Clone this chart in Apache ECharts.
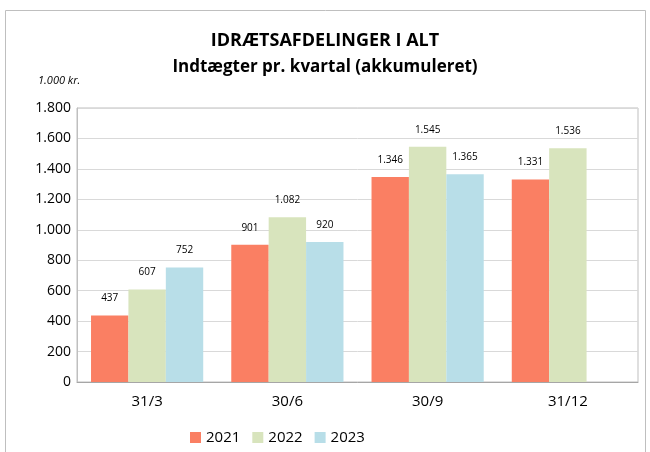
<!DOCTYPE html>
<html>
<head>
<meta charset="utf-8">
<script src="https://cdn.jsdelivr.net/npm/echarts@6/dist/echarts.min.js"></script>
<style>
  html, body { margin: 0; padding: 0; background: #fff; }
  #chart { width: 650px; height: 452px; }
</style>
</head>
<body>
<div id="chart"></div>
<script>
// data
var quarters = ['31/3', '30/6', '30/9', '31/12'];
var years = ['2021', '2022', '2023'];
var values2021 = [437, 901, 1346, 1331];
var values2022 = [607, 1082, 1545, 1536];
var values2023 = [752, 920, 1365, null];
var colors = ['#fa7f63', '#d8e4bd', '#b8dee8'];

// tal med punktum som tusindtalsseparator
function fmt (v) {
  return String(Math.round(v)).replace(/\B(?=(\d{3})+(?!\d))/g, '.');
}

var chart = echarts.init(document.getElementById('chart'));
var seriesData = [values2021, values2022, values2023];

chart.setOption({
  animation: false,
  color: colors,
  textStyle: { fontFamily: 'Open Sans, Liberation Sans, sans-serif' },
  title: {
    text: 'IDRÆTSAFDELINGER I ALT',
    subtext: 'Indtægter pr. kvartal (akkumuleret)',
    left: 'center',
    top: 27,
    itemGap: 9,
    textStyle: { fontSize: 18, fontWeight: 'bold', color: '#000' },
    subtextStyle: { fontSize: 17, fontWeight: 'bold', color: '#000' }
  },
  graphic: [
    {
      type: 'rect',
      shape: { x: 5.5, y: 10.5, width: 640, height: 450 },
      style: { fill: null, stroke: '#bfbfbf', lineWidth: 1 },
      silent: true
    },
    {
      type: 'text',
      left: 38,
      top: 75,
      style: { text: '1.000 kr.', font: 'italic 11px Open Sans', fill: '#000' }
    }
  ],
  legend: {
    data: years,
    bottom: 2,
    left: 185,
    itemWidth: 11,
    itemHeight: 11,
    itemGap: 12,
    icon: 'rect',
    textStyle: { fontSize: 15, color: '#000' }
  },
  grid: {
    left: 77, right: 12, top: 108, bottom: 70,
    show: true, borderColor: '#bfbfbf', borderWidth: 1
  },
  xAxis: {
    type: 'category',
    data: quarters,
    axisTick: { show: false },
    axisLine: { lineStyle: { color: '#a6a6a6' } },
    axisLabel: { fontSize: 15, color: '#000', margin: 12 }
  },
  yAxis: {
    type: 'value',
    min: 0,
    max: 1800,
    interval: 200,
    axisLine: { show: true, lineStyle: { color: '#bfbfbf' } },
    axisTick: { show: false },
    splitLine: { lineStyle: { color: '#d9d9d9' } },
    axisLabel: { fontSize: 14, color: '#000', margin: 6, formatter: fmt }
  },
  series: seriesData.map(function (vals, i) {
    return {
      name: years[i],
      type: 'bar',
      data: vals,
      barGap: '0%',
      barCategoryGap: '20%',
      label: {
        show: true,
        position: 'top',
        distance: 12,
        fontSize: 10,
        color: '#000',
        formatter: function (p) { return fmt(p.value); }
      }
    };
  })
});
</script>
</body>
</html>
